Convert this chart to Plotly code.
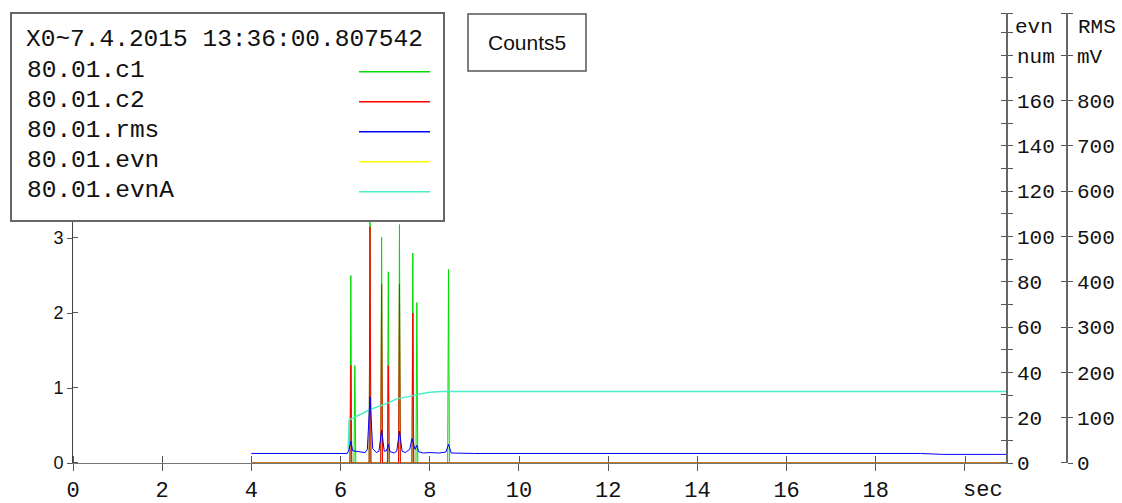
import plotly.graph_objects as go

# ---------------- data ----------------
T_END = 20.92

c1_t = [4.00, 6.21, 6.23, 6.25, 6.30, 6.32, 6.34, 6.64, 6.66, 6.68, 6.90, 6.92, 6.94,
        7.05, 7.07, 7.09, 7.30, 7.32, 7.34, 7.60, 7.62, 7.64, 7.69, 7.71, 7.73,
        8.40, 8.42, 8.44, 20.92]
c1_v = [0, 0, 2.50, 0, 0, 1.30, 0, 0, 3.40, 0, 0, 3.01, 0,
        0, 2.55, 0, 0, 3.18, 0, 0, 2.80, 0, 0, 2.14, 0,
        0, 2.58, 0, 0]

c2_t = [4.00, 6.21, 6.23, 6.25, 6.64, 6.66, 6.68, 6.90, 6.92, 6.94, 7.05, 7.07, 7.09,
        7.30, 7.32, 7.34, 7.60, 7.62, 7.64, 20.92]
c2_v = [0, 0, 1.30, 0, 0, 3.15, 0, 0, 2.38, 0, 0, 1.30, 0,
        0, 2.38, 0, 0, 2.00, 0, 0]

rms_t = [4.00, 4.5, 5.0, 5.5, 6.0, 6.15, 6.19, 6.23, 6.27, 6.35, 6.45, 6.55, 6.60, 6.66,
         6.72, 6.80, 6.86, 6.92, 6.98, 7.03, 7.07, 7.11, 7.20, 7.26, 7.32, 7.38, 7.45,
         7.55, 7.60, 7.65, 7.67, 7.71, 7.75, 7.85, 8.0, 8.2, 8.36, 8.42, 8.48, 9.0,
         10, 11, 12, 13, 14, 15, 16, 17, 18, 19, 19.5, 20.92]
rms_v = [21, 21, 22, 21, 21, 21, 30, 48, 27, 26, 24, 23, 30, 146,
         32, 23, 26, 72, 26, 27, 41, 25, 22, 26, 70, 26, 23,
         30, 54, 33, 30, 39, 25, 22, 23, 22, 24, 41, 22, 21,
         21, 21, 20, 21, 20, 21, 20, 21, 20, 21, 19, 19]

evn_t = [4.00, 20.92]
evn_v = [0, 0]

evnA_t = [6.17, 6.19, 6.45, 6.66, 7.03, 7.26, 7.56, 7.78, 8.0, 8.25, 20.92]
evnA_v = [6, 18.9, 21.5, 23.6, 26.2, 28.3, 29.4, 30.5, 31.2, 31.6, 31.6]

series_names = ["80.01.c1", "80.01.c2", "80.01.rms", "80.01.evn", "80.01.evnA"]
series_colors = ["#00dd00", "#ff0000", "#0000ff", "#ffff00", "#48f0c8"]
header_text = "X0~7.4.2015 13:36:00.807542"
box_title = "Counts5"

x_tickvals = [0, 2, 4, 6, 8, 10, 12, 14, 16, 18, 20]
x_ticktext = ["0", "2", "4", "6", "8", "10", "12", "14", "16", "18", ""]
y_tickvals = [0, 1, 2, 3, 4, 5]
y_ticktext = ["0", "1", "2", "3", "", ""]   # 4 and 5 sit under the legend box
evn_tickvals = list(range(0, 200, 10))
evn_ticktext = ["0", "", "20", "", "40", "", "60", "", "80", "", "100", "", "120", "",
                "140", "", "160", "", "num", ""]
rms_tickvals = list(range(0, 1000, 100))
rms_ticktext = ["0", "100", "200", "300", "400", "500", "600", "700", "800", "mV"]

Y_MAX = 6.0
EVN_MAX = 198.6
RMS_MAX = 993.0

# ---------------- layout geometry ----------------
W, H = 1122, 503
ML, MR, MT, MB = 73, 55, 13, 40
PW = W - ML - MR
PH = H - MT - MB
XDOM = (1006 - ML) / PW


def px(x):
    return (x - ML) / PW


def py(y):
    return (H - MB - y) / PH


def shifted(vals, eps):
    return [v + eps for v in vals]


MONO = "Liberation Mono"
SANS = "Liberation Sans"
AXC = "#555555"

fig = go.Figure()
# draw order: evn (zero line, shares the zero of the base axis) under c1 and c2
fig.add_trace(go.Scatter(x=evn_t, y=evn_v, mode="lines", yaxis="y",
                         line=dict(color=series_colors[3], width=1)))
fig.add_trace(go.Scatter(x=c1_t, y=c1_v, mode="lines", yaxis="y",
                         line=dict(color=series_colors[0], width=1)))
fig.add_trace(go.Scatter(x=c2_t, y=c2_v, mode="lines", yaxis="y",
                         line=dict(color=series_colors[1], width=1)))
fig.add_trace(go.Scatter(x=evnA_t, y=evnA_v, mode="lines", yaxis="y2",
                         line=dict(color=series_colors[4], width=1.5)))
fig.add_trace(go.Scatter(x=rms_t, y=rms_v, mode="lines", yaxis="y3",
                         line=dict(color=series_colors[2], width=1)))
fig.update_traces(showlegend=False, hoverinfo="skip")

common = dict(showgrid=False, zeroline=False, tickcolor=AXC, layer="below traces",
              automargin=False)

fig.update_layout(
    width=W, height=H, autosize=False,
    margin=dict(l=ML, r=MR, t=MT, b=MB, pad=0),
    paper_bgcolor="white", plot_bgcolor="white",
    showlegend=False,
    xaxis=dict(domain=[0, XDOM], range=[0, T_END], tickvals=x_tickvals, ticktext=x_ticktext,
               ticks="outside", ticklen=7, showline=True, linecolor="#777777", linewidth=1,
               minor=dict(tickmode="array", tickvals=shifted(x_tickvals, 0.002), ticks="inside",
                          ticklen=7, tickcolor=AXC, showgrid=False),
               tickfont=dict(family=MONO, size=22, color="#111"), anchor="y", **common),
    yaxis=dict(range=[0, Y_MAX], tickvals=y_tickvals, ticktext=y_ticktext, ticks="outside",
               ticklen=5, showline=True, linecolor="#444444", linewidth=1, anchor="x",
               minor=dict(tickmode="array", tickvals=shifted(y_tickvals, 0.001), ticks="inside",
                          ticklen=5, tickcolor=AXC, showgrid=False),
               tickfont=dict(family=SANS, size=18, color="#111"), **common),
    yaxis2=dict(range=[0, EVN_MAX], tickvals=evn_tickvals + [EVN_MAX - 0.01],
                ticktext=evn_ticktext + [""], overlaying="y", side="right", anchor="x",
                ticks="outside", ticklen=5, showline=True, linecolor="#666666", linewidth=1.5,
                minor=dict(tickmode="array", tickvals=shifted(evn_tickvals, 0.02) + [EVN_MAX - 0.03],
                           ticks="inside", ticklen=5, tickcolor=AXC, showgrid=False),
                tickfont=dict(family=MONO, size=21, color="#111"), **common),
    yaxis3=dict(range=[0, RMS_MAX], tickvals=rms_tickvals + [RMS_MAX - 0.05],
                ticktext=rms_ticktext + [""], overlaying="y", side="right", anchor="free",
                position=1.0, ticks="outside", ticklen=5, showline=True, linecolor="#666666",
                linewidth=1.5,
                minor=dict(tickmode="array", tickvals=shifted(rms_tickvals, 0.1) + [RMS_MAX - 0.15],
                           ticks="inside", ticklen=5, tickcolor=AXC, showgrid=False),
                tickfont=dict(family=MONO, size=21, color="#111"), **common),
)

shapes = []
annotations = []

# legend box (text left, sample line right)
shapes.append(dict(type="rect", xref="paper", yref="paper", x0=px(11), x1=px(444),
                   y0=py(221), y1=py(13), line=dict(color="#666666", width=2),
                   fillcolor="white", layer="above"))
annotations.append(dict(xref="paper", yref="paper", x=px(24), y=py(39), text=header_text,
                        showarrow=False, xanchor="left", yanchor="middle",
                        font=dict(family=MONO, size=24.5, color="#111")))
rows_y = [70, 100, 130, 160, 190]
for name, color, ry in zip(series_names, series_colors, rows_y):
    annotations.append(dict(xref="paper", yref="paper", x=px(25), y=py(ry), text=name,
                            showarrow=False, xanchor="left", yanchor="middle",
                            font=dict(family=MONO, size=24.5, color="#111")))
    shapes.append(dict(type="line", xref="paper", yref="paper", x0=px(359), x1=px(430),
                       y0=py(ry + 1.7), y1=py(ry + 1.7), line=dict(color=color, width=1.5),
                       layer="above"))

# Counts5 box
shapes.append(dict(type="rect", xref="paper", yref="paper", x0=px(468), x1=px(586),
                   y0=py(71), y1=py(14), line=dict(color="#555555", width=1.5),
                   fillcolor="white", layer="above"))
annotations.append(dict(xref="paper", yref="paper", x=px(527), y=py(43), text=box_title,
                        showarrow=False, xanchor="center", yanchor="middle",
                        font=dict(family=SANS, size=21, color="#111")))

# axis unit labels
annotations.append(dict(xref="paper", yref="y2", x=px(1013), y=192, text="evn",
                        showarrow=False, xanchor="left", yanchor="middle",
                        font=dict(family=MONO, size=21, color="#111")))
annotations.append(dict(xref="paper", yref="y2", x=px(1076), y=192, text="RMS",
                        showarrow=False, xanchor="left", yanchor="middle",
                        font=dict(family=MONO, size=21, color="#111")))
annotations.append(dict(xref="paper", yref="paper", x=px(1005), y=py(490), text="sec",
                        showarrow=False, xanchor="right", yanchor="middle",
                        font=dict(family=MONO, size=22, color="#111")))

fig.update_layout(shapes=shapes, annotations=annotations)

fig.write_html("out.html")
